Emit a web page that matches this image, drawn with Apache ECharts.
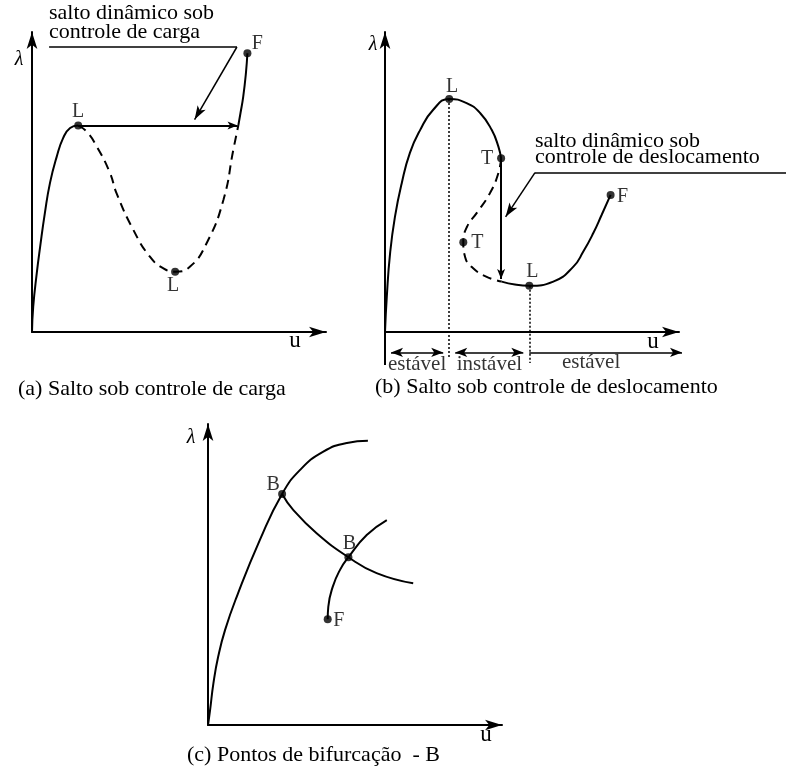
<!DOCTYPE html>
<html>
<head>
<meta charset="utf-8">
<script src="https://cdn.jsdelivr.net/npm/echarts@6/dist/echarts.min.js"></script>
<style>
  html, body { margin: 0; padding: 0; background: #ffffff; }
  #chart { width: 786px; height: 769px; }
</style>
</head>
<body>
<div id="chart"></div>
<script>
// ---------- (a) Salto sob controle de carga ----------
const aRise     = [[0,0],[0.04,0.84],[0.16,1.97],[0.27,2.83],[0.43,3.97],[0.6,4.97],[0.82,5.83],[1.04,6.47],[1.27,6.8],[1.54,6.88]];
const aUnstable = [[1.54,6.88],[1.82,6.68],[2.16,6.18],[2.6,5.3],[2.82,4.62],[3.38,3.4],[3.93,2.51],[4.38,2.12],[4.77,2.01],[5.27,2.18],[5.82,2.96],[6.38,4.4],[6.71,6.07],[6.88,6.9]];
const aAfter    = [[6.88,6.9],[6.95,7.3],[7.04,7.84],[7.13,8.62],[7.18,9.29]];
const aJump     = [[1.54,6.88],[6.85,6.88]];
const aNoteLine = [[0.57,9.5],[6.83,9.5]];
const aPointer  = [[6.83,9.5],[5.42,7.08]];
const aMarks    = [[1.54,6.88],[4.77,2.01],[7.18,9.29]];
const aMarkNames = ['L','L','F'];

// ---------- (b) Salto sob controle de deslocamento ----------
const bRise     = [[0,0],[0.06,1.18],[0.17,2.63],[0.33,3.83],[0.56,4.97],[0.83,5.97],[1.17,6.73],[1.6,7.4],[2.14,7.77],[2.72,7.63],[3.17,7.3],[3.56,6.73],[3.78,6.18],[3.87,5.79]];
const bUnstable = [[3.87,5.79],[3.78,5.3],[3.5,4.63],[3.06,3.97],[2.73,3.5],[2.61,2.99],[2.67,2.5],[2.93,2.13],[3.39,1.84],[3.89,1.68]];
const bStable   = [[3.89,1.68],[4.33,1.58],[4.81,1.54],[5.61,1.68],[6.28,2.18],[6.61,2.68],[6.94,3.29],[7.22,3.9],[7.52,4.57]];
const bJump     = [[3.87,5.79],[3.87,1.77]];
const bNoteLine = [[5.0,5.31],[13.37,5.31]];
const bPointer  = [[5.0,5.31],[4.02,3.84]];
const bMarks    = [[2.14,7.77],[3.87,5.79],[2.61,2.99],[4.81,1.54],[7.52,4.57]];
const bMarkNames = ['L','T','T','L','F'];
const bLimitLines = [[[2.14,7.77],[2.14,-0.83]], [[4.81,1.54],[4.81,-1.03]]];
const bZoneEdges = [0, 2.14, 4.81, 10.1];
const bZoneLevel = -0.68;
const bZoneNames = ['estável','instável','estável'];
const bZoneLabelAt = [[1.07,-1.08],[3.48,-1.08],[6.87,-1.02]];
const bAxisTail = [[0,0],[0,-1.1]];

// ---------- (c) Pontos de bifurcação ----------
const cPrimary   = [[0,0],[0.07,0.5],[0.18,1.39],[0.34,2.28],[0.57,3.17],[0.96,4.28],[1.73,6.17],[2.47,7.7],[3.07,8.5],[3.83,9.1],[4.63,9.4],[5.33,9.47]];
const cSecondary = [[2.47,7.7],[2.84,7.17],[3.62,6.39],[4.68,5.59],[5.62,5.06],[6.84,4.72]];
const cTertiary  = [[3.99,3.52],[4.01,3.94],[4.16,4.61],[4.4,5.17],[4.68,5.59],[5.29,6.33],[5.96,6.83]];
const cMarks     = [[2.47,7.7],[4.68,5.59],[3.99,3.52]];
const cMarkNames = ['B','B','F'];

// ---------- drawing ----------
const FONT = '"Liberation Serif", "Times New Roman", serif';
const ink = '#000';

const grids = [
  { left: 32,  top: 32,  width: 294, height: 300 },
  { left: 385, top: 32,  width: 294, height: 300 },
  { left: 208, top: 424, width: 294, height: 301 }
];
const ranges = [[9.8, 10], [9.8, 10], [9.8, 10.03]];

function axis(i, max) {
  return {
    type: 'value', gridIndex: i, min: 0, max: max,
    axisLine: { show: true, onZero: false, symbol: ['none', 'arrow'], symbolSize: [8, 17],
                lineStyle: { color: ink, width: 2 } },
    axisTick: { show: false }, axisLabel: { show: false }, splitLine: { show: false }
  };
}

function curve(i, data, dashed) {
  return {
    type: 'line', xAxisIndex: i, yAxisIndex: i, data: data,
    showSymbol: false, symbol: 'none', smooth: 0.5, clip: false,
    lineStyle: { color: ink, width: 2, type: dashed ? [9, 6] : 'solid' },
    silent: true, animation: false, z: 3
  };
}

function segs(i, list, arrows, size, width, type) {
  return {
    type: 'lines', coordinateSystem: 'cartesian2d', xAxisIndex: i, yAxisIndex: i,
    data: list.map(c => ({ coords: c })),
    symbol: arrows, symbolSize: [size, size],
    lineStyle: { color: ink, width: width, opacity: 1, type: type || 'solid', curveness: 0 },
    clip: false, silent: true, animation: false, z: 2
  };
}

function marks(i, pts, names, offsets) {
  return {
    type: 'scatter', xAxisIndex: i, yAxisIndex: i, symbol: 'circle', symbolSize: 8,
    itemStyle: { color: ink }, clip: false, silent: true, animation: false, z: 5,
    data: pts.map((p, k) => ({ value: p, name: names[k], label: { offset: offsets[k] } })),
    label: { show: true, position: 'inside', formatter: '{b}', color: ink,
             fontFamily: FONT, fontSize: 20, textBorderWidth: 0 }
  };
}

// zone arrows under panel (b)
const inset = 0.2;
const zoneArrowsBoth = [
  [[bZoneEdges[0] + inset, bZoneLevel], [bZoneEdges[1] - inset, bZoneLevel]],
  [[bZoneEdges[1] + inset, bZoneLevel], [bZoneEdges[2] - inset, bZoneLevel]]
];
const zoneArrowLast = [[[bZoneEdges[2], bZoneLevel], [bZoneEdges[3] - inset, bZoneLevel]]];

const series = [
  // (a)
  curve(0, aRise, false), curve(0, aUnstable, true), curve(0, aAfter, false),
  segs(0, [aJump], ['none', 'arrow'], [6, 10], 2),
  segs(0, [aNoteLine], ['none', 'none'], [1, 1], 1.5),
  segs(0, [aPointer], ['none', 'arrow'], [7, 14], 1.5),
  marks(0, aMarks, aMarkNames, [[0, -14], [-2, 14], [10, -10]]),
  // (b)
  curve(1, bRise, false), curve(1, bUnstable, true), curve(1, bStable, false),
  segs(1, [bJump], ['none', 'arrow'], [6, 10], 2),
  segs(1, [bNoteLine], ['none', 'none'], [1, 1], 1.5),
  segs(1, [bPointer], ['none', 'arrow'], [7, 14], 1.5),
  segs(1, [bAxisTail], ['none', 'none'], [1, 1], 2),
  segs(1, bLimitLines, ['none', 'none'], [1, 1], 1.5, [2, 2]),
  segs(1, zoneArrowsBoth, ['arrow', 'arrow'], [7, 12], 1.5),
  segs(1, zoneArrowLast, ['none', 'arrow'], [7, 12], 1.5),
  marks(1, bMarks, bMarkNames, [[3, -12], [-14, 0], [14, 0], [3, -14], [12, 2]]),
  {
    type: 'scatter', xAxisIndex: 1, yAxisIndex: 1, symbolSize: 0, clip: false,
    silent: true, animation: false,
    data: bZoneLabelAt.map((p, k) => ({ value: p, name: bZoneNames[k] })),
    label: { show: true, position: 'inside', formatter: '{b}', color: ink,
             fontFamily: FONT, fontSize: 21, textBorderWidth: 0 }
  },
  // (c)
  curve(2, cPrimary, false), curve(2, cSecondary, false), curve(2, cTertiary, false),
  marks(2, cMarks, cMarkNames, [[-9, -9], [1, -13], [11, 1]])
];

function txt(x, y, text, size, align, italic) {
  return {
    type: 'text', x: x, y: y, silent: true,
    style: { text: text, font: (italic ? 'italic ' : '') + size + 'px ' + FONT, fill: ink,
             align: align, verticalAlign: 'middle', textAlign: align, textVerticalAlign: 'middle' }
  };
}

const graphic = [
  txt(49, 13.3, 'salto dinâmico sob', 22, 'left'),
  txt(49, 31.9, 'controle de carga', 22, 'left'),
  txt(535, 141, 'salto dinâmico sob', 22, 'left'),
  txt(535, 157, 'controle de deslocamento', 22, 'left'),
  txt(18, 389.6, '(a) Salto sob controle de carga', 22, 'left'),
  txt(375, 387.6, '(b) Salto sob controle de deslocamento', 22, 'left'),
  txt(187, 755.6, '(c) Pontos de bifurcação  - B', 22, 'left'),
  txt(19, 60, 'λ', 20, 'center', true),
  txt(373, 45, 'λ', 20, 'center', true),
  txt(191, 438, 'λ', 20, 'center', true),
  txt(295, 341, 'u', 23, 'center'),
  txt(653, 342, 'u', 23, 'center'),
  txt(486, 735, 'u', 23, 'center')
];

const chart = echarts.init(document.getElementById('chart'));
chart.setOption({
  backgroundColor: '#ffffff',
  animation: false,
  grid: grids,
  xAxis: ranges.map((r, i) => axis(i, r[0])),
  yAxis: ranges.map((r, i) => axis(i, r[1])),
  series: series,
  graphic: graphic
});
</script>
</body>
</html>
